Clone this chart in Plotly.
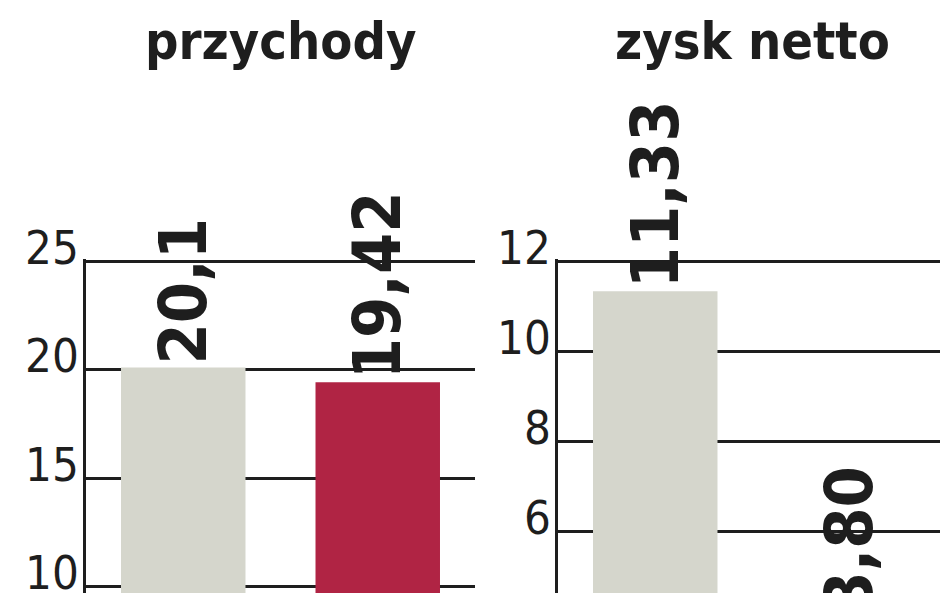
import plotly.graph_objects as go
from plotly.subplots import make_subplots

# dane (mln zł)
periods = ["okres 1", "okres 2"]
revenue = [20.1, 19.42]
revenue_labels = ["20,1", "19,42"]
net_profit = [11.33, 3.80]
net_profit_labels = ["11,33", "3,80"]
panel_titles = ["przychody", "zysk netto"]

bar_colors = ["#d5d6cc", "#b02444"]
ink = "#1e1e1e"
narrow = "DejaVu Sans Condensed, sans-serif"
label_font = dict(family=narrow, size=66, color=ink, weight="bold")

# visible part of each value axis (the chart is cut off at the bottom)
y_ranges = [[9.71, 25.1], [4.63, 12.048]]
y_steps = [5, 2]

fig = make_subplots(rows=1, cols=2, horizontal_spacing=0.0964)

panels = [(revenue, revenue_labels), (net_profit, net_profit_labels)]
for col, (vals, labels) in enumerate(panels, start=1):
    lo, hi = y_ranges[col - 1]
    # bar labels; a bar that ends below the visible range gets its label as an annotation
    texts = [lab if v >= lo else "" for v, lab in zip(vals, labels)]
    fig.add_trace(go.Bar(
        x=periods, y=vals,
        marker=dict(color=bar_colors, line=dict(width=0)),
        width=0.64,
        text=texts,
        textposition="outside",
        textangle=-90,
        constraintext="none",
        cliponaxis=False,
        textfont=label_font,
        showlegend=False,
    ), row=1, col=col)
    for p, v, lab in zip(periods, vals, labels):
        if v < lo:
            fig.add_annotation(
                text=lab, textangle=-90, showarrow=False,
                xref="x%d" % col, x=p,
                yref="y%d domain" % col, y=(v - lo) / (hi - lo),
                xanchor="center", yanchor="bottom", yshift=16,
                font=label_font,
            )

fig.update_xaxes(showticklabels=False, showgrid=False, zeroline=False, showline=False, ticks="",
                 categoryorder="array", categoryarray=periods, automargin=False)
axis_style = dict(
    showline=True, linecolor=ink, linewidth=2.5,
    gridcolor=ink, gridwidth=2.5, zeroline=False, ticks="", ticklen=0,
    tickfont=dict(family=narrow, size=47, color=ink),
    ticklabelshift=-14, ticklabelstandoff=-5, ticklabeloverflow="allow",
    automargin=False,
)
for col in (1, 2):
    fig.update_yaxes(range=y_ranges[col - 1], dtick=y_steps[col - 1], tick0=0,
                     row=1, col=col, **axis_style)

for i, title in enumerate(panel_titles):
    xref = "x domain" if i == 0 else "x2 domain"
    fig.add_annotation(
        text=title, xref=xref, yref="paper", x=0.5, y=1.652,
        xanchor="center", yanchor="middle", showarrow=False,
        font=dict(family=narrow, size=52, color=ink, weight="bold"),
    )

fig.update_layout(
    width=940, height=585,
    margin=dict(l=78, r=1, t=251, b=0, autoexpand=False),
    paper_bgcolor="white", plot_bgcolor="white",
    barmode="overlay",
)

fig.write_html("out.html")
